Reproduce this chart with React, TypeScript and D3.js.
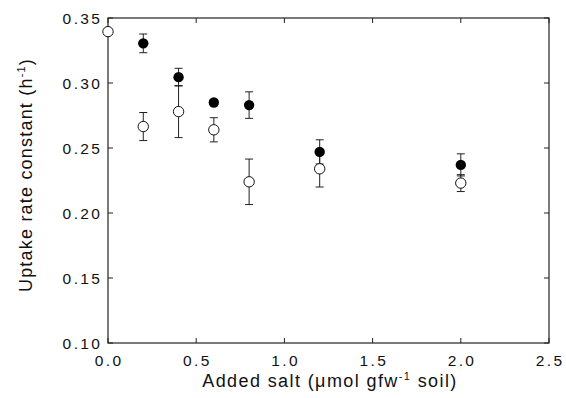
import React from "react";
import * as d3 from "d3";

// values
const saltFilled = [0.2, 0.4, 0.6, 0.8, 1.2, 2.0];
const rateFilled = [0.3305, 0.3045, 0.285, 0.283, 0.247, 0.237];
const errFilled = [0.0072, 0.0068, 0.002, 0.0102, 0.0093, 0.0085];

const saltOpen = [0.0, 0.2, 0.4, 0.6, 0.8, 1.2, 2.0];
const rateOpen = [0.3395, 0.2665, 0.278, 0.264, 0.224, 0.234, 0.223];
const errOpen = [0, 0.0108, 0.02, 0.0093, 0.0175, 0.014, 0.0065];

const xTicks = [0.0, 0.5, 1.0, 1.5, 2.0, 2.5];
const yTicks = [0.1, 0.15, 0.2, 0.25, 0.3, 0.35];

const W = 566;
const H = 398;
const left = 108;
const right = 549;
const top = 18;
const bottom = 343;
const tick = 5;
const font = "Liberation Sans, Arial, Helvetica, sans-serif";

export default function App() {
  const x = d3.scaleLinear().domain([0, 2.5]).range([left, right]);
  const y = d3.scaleLinear().domain([0.1, 0.35]).range([bottom, top]);

  const filled = saltFilled.map((s, i) => ({ s, v: rateFilled[i], e: errFilled[i] }));
  const open = saltOpen.map((s, i) => ({ s, v: rateOpen[i], e: errOpen[i] }));

  const errBar = (d: { s: number; v: number; e: number }, k: string) => {
    if (d.e <= 0) return null;
    const cx = x(d.s);
    const y1 = y(d.v + d.e);
    const y2 = y(d.v - d.e);
    return (
      <g key={k} stroke="#222" strokeWidth={1}>
        <line x1={cx} x2={cx} y1={y1} y2={y2} />
        <line x1={cx - 4} x2={cx + 4} y1={y1} y2={y1} />
        <line x1={cx - 4} x2={cx + 4} y1={y2} y2={y2} />
      </g>
    );
  };

  return (
    <svg
      width={W}
      height={H}
      style={{ position: "absolute", left: 0, top: 0, background: "#fff" }}
      fontFamily={font}
    >
      {/* frame */}
      <rect
        x={left}
        y={top}
        width={right - left}
        height={bottom - top}
        fill="none"
        stroke="#222"
        strokeWidth={1.2}
      />

      {/* x ticks, inward on bottom and top */}
      {xTicks.map((t) => (
        <g key={"xt" + t}>
          <line x1={x(t)} x2={x(t)} y1={bottom} y2={bottom - tick} stroke="#222" />
          <line x1={x(t)} x2={x(t)} y1={top} y2={top + tick} stroke="#222" />
          <text
            x={x(t) + 1.2}
            y={365.5}
            textAnchor="middle"
            fontSize={15.5}
            letterSpacing={2.4}
            fill="#111"
          >
            {t.toFixed(1)}
          </text>
        </g>
      ))}

      {/* y ticks, inward on left and right */}
      {yTicks.map((t) => (
        <g key={"yt" + t}>
          <line x1={left} x2={left + tick} y1={y(t)} y2={y(t)} stroke="#222" />
          <line x1={right} x2={right - tick} y1={y(t)} y2={y(t)} stroke="#222" />
          <text
            x={102.4}
            y={y(t)}
            dy="0.36em"
            textAnchor="end"
            fontSize={15.5}
            letterSpacing={2.4}
            fill="#111"
          >
            {t.toFixed(2)}
          </text>
        </g>
      ))}

      {/* axis titles */}
      <text x={330} y={387} textAnchor="middle" fontSize={18} letterSpacing={1.4} fill="#111">
        Added salt (μmol gfw
        <tspan dy={-7} fontSize={11}>-1</tspan>
        <tspan dy={7}> soil)</tspan>
      </text>
      <text
        transform={`translate(32, ${175}) rotate(-90)`}
        textAnchor="middle"
        fontSize={18}
        letterSpacing={1.2}
        fill="#111"
      >
        Uptake rate constant (h
        <tspan dy={-7} fontSize={11}>-1</tspan>
        <tspan dy={7}>)</tspan>
      </text>

      {/* error bars */}
      {open.map((d, i) => errBar(d, "eo" + i))}
      {filled.map((d, i) => errBar(d, "ef" + i))}

      {/* open circles */}
      {open.map((d, i) => (
        <circle
          key={"o" + i}
          cx={x(d.s)}
          cy={y(d.v)}
          r={5.2}
          fill="#fff"
          stroke="#111"
          strokeWidth={1}
        />
      ))}

      {/* filled circles */}
      {filled.map((d, i) => (
        <circle key={"f" + i} cx={x(d.s)} cy={y(d.v)} r={5.2} fill="#000" />
      ))}
    </svg>
  );
}
